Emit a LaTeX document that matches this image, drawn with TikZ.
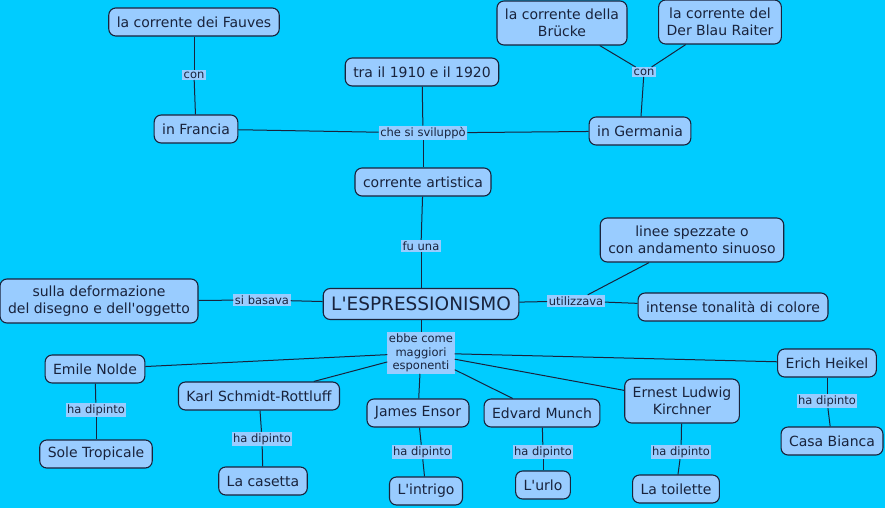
\documentclass[tikz,border=0pt]{standalone}
\usepackage{fontspec}
\setmainfont{DejaVu Sans}
\definecolor{bg}{RGB}{0,204,255}
\definecolor{nodefill}{RGB}{153,204,255}
\definecolor{ink}{RGB}{25,35,60}
\newcommand{\apos}{\textquotesingle}
\begin{document}
\begin{tikzpicture}[x=1pt,y=-1pt,
 concept/.style={draw=ink, fill=nodefill, rounded corners=7pt, line width=1.1pt, text=ink,
   font=\fontsize{14}{16.5}\selectfont, align=center, inner xsep=8pt, inner ysep=0pt, minimum height=28pt},
 two/.style={minimum height=44pt},
 linklab/.style={fill=nodefill, text=ink, font=\fontsize{11.5}{13.5}\selectfont, inner sep=1.5pt, align=center},
 conn/.style={draw=ink, line width=1pt}]
\fill[bg] (0,0) rectangle (885,508);
\useasboundingbox (0,0) rectangle (885,508);

% concepts
\node[concept] (fauves) at (194,22) {la corrente dei Fauves};
\node[concept] (francia) at (196,129) {in Francia};
\node[concept] (tra) at (422,72) {tra il 1910 e il 1920};
\node[concept] (germania) at (640,131) {in Germania};
\node[concept,two] (brucke) at (562,23) {la corrente della\\Brücke};
\node[concept,two] (blau) at (720,22) {la corrente del\\Der Blau Raiter};
\node[concept] (artistica) at (423,182) {corrente artistica};
\node[concept, font=\fontsize{18.5}{20}\selectfont, minimum height=31pt] (esp) at (421,304) {L\apos ESPRESSIONISMO};
\node[concept,two] (deform) at (99,301) {sulla deformazione\\del disegno e dell\apos oggetto};
\node[concept,two] (linee) at (692,240) {linee spezzate o\\con andamento sinuoso};
\node[concept] (intense) at (733,307) {intense tonalità di colore};
\node[concept] (nolde) at (95,369) {Emile Nolde};
\node[concept] (sole) at (96,454) {Sole Tropicale};
\node[concept] (karl) at (259,396) {Karl Schmidt-Rottluff};
\node[concept] (casetta) at (263,481) {La casetta};
\node[concept] (ensor) at (418,413) {James Ensor};
\node[concept] (intrigo) at (426,491) {L\apos intrigo};
\node[concept] (munch) at (542,413) {Edvard Munch};
\node[concept] (urlo) at (543,485) {L\apos urlo};
\node[concept,two] (kirchner) at (682,401) {Ernest Ludwig\\Kirchner};
\node[concept] (toilette) at (676,489) {La toilette};
\node[concept] (heikel) at (827,363) {Erich Heikel};
\node[concept] (casa) at (832,441) {Casa Bianca};

% link labels
\node[linklab] (con1) at (194,75) {con};
\node[linklab] (svil) at (423,133) {che si sviluppò};
\node[linklab] (con2) at (644,72) {con};
\node[linklab] (fuuna) at (421,246) {fu una};
\node[linklab] (basava) at (262,300) {si basava};
\node[linklab] (utilizz) at (576,301) {utilizzava};
\node[linklab] (ebbe) at (421,353) {ebbe come\\maggiori\\esponenti};
\node[linklab] (hd1) at (96,410) {ha dipinto};
\node[linklab] (hd2) at (262,439) {ha dipinto};
\node[linklab] (hd3) at (422,452) {ha dipinto};
\node[linklab] (hd4) at (543,452) {ha dipinto};
\node[linklab] (hd5) at (681,452) {ha dipinto};
\node[linklab] (hd6) at (827,401) {ha dipinto};

% connectors
\draw[conn] (fauves) -- (con1);
\draw[conn] (con1) -- (francia);
\draw[conn] (francia) -- (svil);
\draw[conn] (svil) -- (germania);
\draw[conn] (tra) -- (svil);
\draw[conn] (svil) -- (artistica);
\draw[conn] (brucke) -- (con2);
\draw[conn] (blau) -- (con2);
\draw[conn] (con2) -- (germania);
\draw[conn] (artistica) -- (fuuna);
\draw[conn] (fuuna) -- (esp);
\draw[conn] (esp) -- (basava);
\draw[conn] (basava) -- (deform);
\draw[conn] (esp) -- (utilizz);
\draw[conn] (utilizz) -- (linee);
\draw[conn] (utilizz) -- (intense);
\draw[conn] (esp) -- (ebbe);
\draw[conn] (ebbe) -- (nolde);
\draw[conn] (ebbe) -- (karl);
\draw[conn] (ebbe) -- (ensor);
\draw[conn] (ebbe) -- (munch);
\draw[conn] (ebbe) -- (kirchner);
\draw[conn] (ebbe) -- (heikel);
\draw[conn] (nolde) -- (hd1);
\draw[conn] (hd1) -- (sole);
\draw[conn] (karl) -- (hd2);
\draw[conn] (hd2) -- (casetta);
\draw[conn] (ensor) -- (hd3);
\draw[conn] (hd3) -- (intrigo);
\draw[conn] (munch) -- (hd4);
\draw[conn] (hd4) -- (urlo);
\draw[conn] (kirchner) -- (hd5);
\draw[conn] (hd5) -- (toilette);
\draw[conn] (heikel) -- (hd6);
\draw[conn] (hd6) -- (casa);
\end{tikzpicture}
\end{document}
